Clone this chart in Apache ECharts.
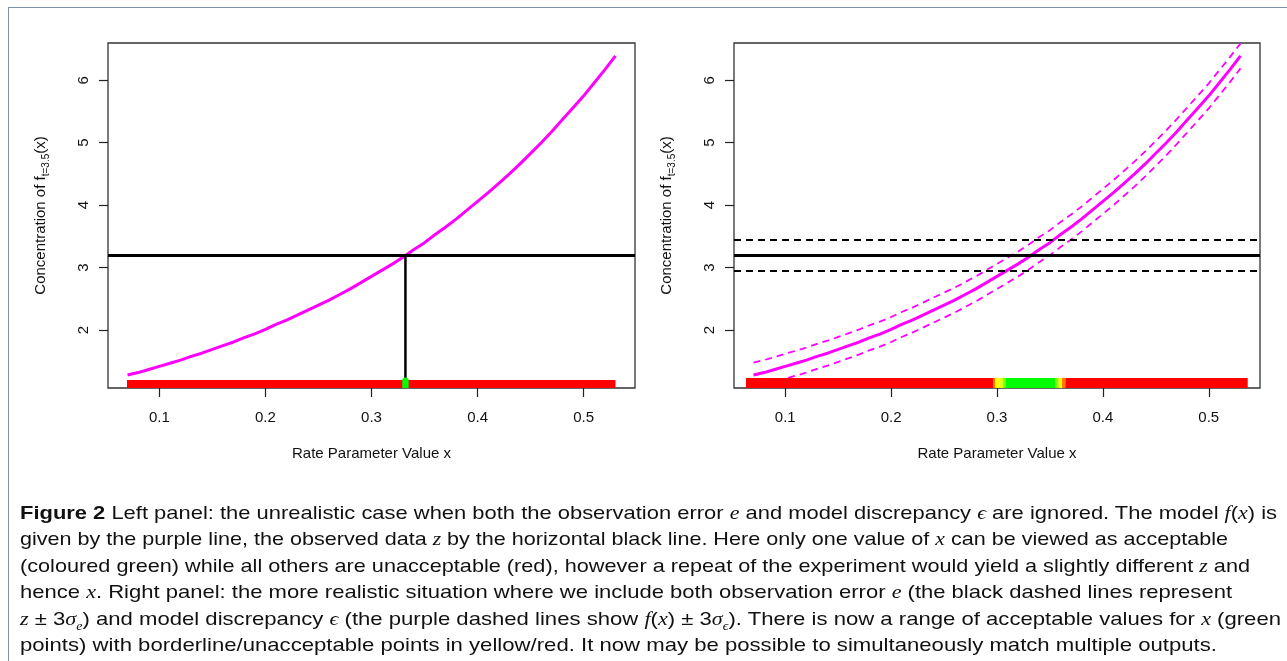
<!DOCTYPE html>
<html>
<head>
<meta charset="utf-8">
<script src="https://cdn.jsdelivr.net/npm/echarts@6/dist/echarts.min.js"></script>
<style>
  html, body { margin: 0; padding: 0; background: #fff; }
  #chart { position: absolute; left: 0; top: 0; width: 1287px; height: 661px; }
  #frame { position: absolute; left: 8px; top: 7px; width: 1300px; height: 700px;
           border-top: 1.5px solid #8090a8; border-left: 1.5px solid #8090a8; pointer-events: none; }
  #caption { position: absolute; left: 20px; top: 500px; font-family: "Liberation Sans", Arial, sans-serif;
             font-size: 19px; line-height: 26.4px; color: #111; }
  #caption .ln { white-space: nowrap; height: 26.4px; }
  #caption .ln span.w { display: inline-block; transform-origin: 0 50%; }
  #caption i { font-family: "Liberation Serif", serif; font-style: italic; }
  #caption sub { font-size: 12px; line-height: 0; }
</style>
</head>
<body>
<div id="chart"></div>
<div id="frame"></div>
<div id="caption">
  <div class="ln" data-w="1257"><span class="w"><b>Figure 2</b> Left panel: the unrealistic case when both the observation error <i>e</i> and model discrepancy <i>ϵ</i> are ignored. The model <i>f</i>(<i>x</i>) is</span></div>
  <div class="ln" data-w="1208"><span class="w">given by the purple line, the observed data <i>z</i> by the horizontal black line. Here only one value of <i>x</i> can be viewed as acceptable</span></div>
  <div class="ln" data-w="1230"><span class="w">(coloured green) while all others are unacceptable (red), however a repeat of the experiment would yield a slightly different <i>z</i> and</span></div>
  <div class="ln" data-w="1212"><span class="w">hence <i>x</i>. Right panel: the more realistic situation where we include both observation error <i>e</i> (the black dashed lines represent</span></div>
  <div class="ln" data-w="1261"><span class="w"><i>z</i> ± 3<i>σ<sub>e</sub></i>) and model discrepancy <i>ϵ</i> (the purple dashed lines show <i>f</i>(<i>x</i>) ± 3<i>σ<sub>ϵ</sub></i>). There is now a range of acceptable values for <i>x</i> (green</span></div>
  <div class="ln" data-w="1197"><span class="w">points) with borderline/unacceptable points in yellow/red. It now may be possible to simultaneously match multiple outputs.</span></div>
</div>
<script>
// ---------------- data ----------------
const xValues = [0.07, 0.08, 0.09, 0.10, 0.11, 0.12, 0.13, 0.14, 0.15, 0.16, 0.17, 0.18,
                 0.19, 0.20, 0.21, 0.22, 0.23, 0.24, 0.25, 0.26, 0.27, 0.28, 0.29, 0.30,
                 0.31, 0.32, 0.33, 0.34, 0.35, 0.36, 0.37, 0.38, 0.39, 0.40, 0.41, 0.42,
                 0.43, 0.44, 0.45, 0.46, 0.47, 0.48, 0.49, 0.50, 0.51, 0.52, 0.53];
const modelF = [1.28, 1.32, 1.37, 1.42, 1.47, 1.52, 1.58, 1.63, 1.69, 1.75, 1.81, 1.88,
                1.94, 2.01, 2.09, 2.16, 2.24, 2.32, 2.40, 2.48, 2.57, 2.66, 2.76, 2.86,
                2.96, 3.06, 3.17, 3.29, 3.40, 3.53, 3.65, 3.78, 3.92, 4.06, 4.20, 4.35,
                4.50, 4.66, 4.83, 5.00, 5.18, 5.37, 5.56, 5.75, 5.96, 6.17, 6.39];
const modelUpper = [1.48, 1.52, 1.57, 1.62, 1.67, 1.72, 1.78, 1.83, 1.89, 1.95, 2.01, 2.08,
                    2.14, 2.21, 2.29, 2.36, 2.44, 2.52, 2.60, 2.68, 2.77, 2.86, 2.96, 3.06,
                    3.16, 3.26, 3.37, 3.49, 3.60, 3.73, 3.85, 3.98, 4.12, 4.26, 4.40, 4.55,
                    4.70, 4.86, 5.03, 5.20, 5.38, 5.57, 5.76, 5.95, 6.16, 6.37, 6.59];
const modelLower = [1.08, 1.12, 1.17, 1.22, 1.27, 1.32, 1.38, 1.43, 1.49, 1.55, 1.61, 1.68,
                    1.74, 1.81, 1.89, 1.96, 2.04, 2.12, 2.20, 2.28, 2.37, 2.46, 2.56, 2.66,
                    2.76, 2.86, 2.97, 3.09, 3.20, 3.33, 3.45, 3.58, 3.72, 3.86, 4.00, 4.15,
                    4.30, 4.46, 4.63, 4.80, 4.98, 5.17, 5.36, 5.55, 5.76, 5.97, 6.19];
const observedZ = 3.2;
const zBounds = [2.95, 3.45];
const matchX = 0.332;
const xTicks = [0.1, 0.2, 0.3, 0.4, 0.5];
const yTicks = [2, 3, 4, 5, 6];
// colour strip segments: [from x, to x, status]
const leftStrip = [[0.0695, 0.530, 'red']];
const leftAccepted = [[0.329, 0.335, 'green']];
const rightStrip = [
  [0.0629, 0.2962, 'red'],
  [0.2962, 0.2985, 'orange'],
  [0.2985, 0.3026, 'yellow'],
  [0.3026, 0.3057, 'yellowgreen'],
  [0.3057, 0.3079, 'lightgreen'],
  [0.3079, 0.3552, 'green'],
  [0.3552, 0.3583, 'lightgreen'],
  [0.3583, 0.3614, 'yellow'],
  [0.3614, 0.3646, 'orange'],
  [0.3646, 0.5368, 'red']
];
const xTitle = 'Rate Parameter Value x';

// ---------------- styling ----------------
const statusColor = { red: '#ff0000', orange: '#ff7a00', yellow: '#ffff00', yellowgreen: '#d8ff20', lightgreen: '#80ff00', green: '#00ff00' };
const X_MIN = 0.0516, X_MAX = 0.5484, Y_MIN = 1.073, Y_MAX = 6.596;
const FONT = '"Liberation Sans", Arial, sans-serif';
const MAGENTA = '#ff00ff';

function xAxisFor(i) {
  return {
    gridIndex: i, type: 'value', min: X_MIN, max: X_MAX,
    axisLine: { show: false },
    axisTick: { show: true, customValues: xTicks, length: 9, lineStyle: { color: '#222', width: 1.2 } },
    axisLabel: { customValues: xTicks, margin: 22, color: '#111', fontSize: 15, fontFamily: FONT },
    splitLine: { show: false },
    name: xTitle, nameLocation: 'middle', nameGap: 58,
    nameTextStyle: { color: '#111', fontSize: 15, fontFamily: FONT }
  };
}
function yAxisFor(i) {
  return {
    gridIndex: i, type: 'value', min: Y_MIN, max: Y_MAX,
    axisLine: { show: false },
    axisTick: { show: true, customValues: yTicks, length: 9, lineStyle: { color: '#222', width: 1.2 } },
    axisLabel: { customValues: yTicks, rotate: 90, margin: 17, color: '#111', fontSize: 15, fontFamily: FONT },
    splitLine: { show: false },
    name: '{a|Concentration of f}{s|t=3.5}{a|(x)}', nameLocation: 'middle', nameRotate: 90, nameGap: 57,
    nameTextStyle: {
      color: '#111', fontFamily: FONT,
      rich: {
        a: { fontSize: 15, fontFamily: FONT, color: '#111', lineHeight: 20, verticalAlign: 'middle' },
        s: { fontSize: 10, fontFamily: FONT, color: '#111', lineHeight: 11, verticalAlign: 'bottom' }
      }
    }
  };
}
function stripSeries(gi, segs, top, z, rounded) {
  return {
    type: 'custom', xAxisIndex: gi, yAxisIndex: gi, z: z, silent: true,
    data: segs.map(s => [s[0], s[1]]),
    renderItem: function (params, api) {
      const p0 = api.coord([api.value(0), top]);
      const p1 = api.coord([api.value(1), Y_MIN]);
      return {
        type: 'rect',
        shape: { x: p0[0], y: p0[1], width: p1[0] - p0[0], height: p1[1] - p0[1], r: rounded ? [3, 3, 0, 0] : 0 },
        style: { fill: statusColor[segs[params.dataIndex][2]] }
      };
    }
  };
}
const pairs = arr => xValues.map((x, i) => [x, arr[i]]);
const hLine = (y, type, width) => ({ yAxis: y, lineStyle: { color: '#000', type: type, width: width } });

const chart = echarts.init(document.getElementById('chart'), null, { renderer: 'canvas' });
chart.setOption({
  animation: false,
  backgroundColor: 'transparent',
  grid: [
    { left: 108, top: 43, width: 527, height: 345, show: true, borderColor: '#333', borderWidth: 1.3, backgroundColor: 'transparent', containLabel: false },
    { left: 734, top: 43, width: 526, height: 345, show: true, borderColor: '#333', borderWidth: 1.3, backgroundColor: 'transparent', containLabel: false }
  ],
  xAxis: [xAxisFor(0), xAxisFor(1)],
  yAxis: [yAxisFor(0), yAxisFor(1)],
  series: [
    // ---- left panel ----
    { type: 'line', xAxisIndex: 0, yAxisIndex: 0, data: pairs(modelF), showSymbol: false,
      lineStyle: { color: MAGENTA, width: 3, join: 'round' }, z: 3,
      markLine: { silent: true, symbol: 'none', label: { show: false }, data: [hLine(observedZ, 'solid', 3)] } },
    { type: 'line', xAxisIndex: 0, yAxisIndex: 0, data: [[matchX, observedZ], [matchX, 1.2]], showSymbol: false,
      lineStyle: { color: '#000', width: 2.5 }, z: 4 },
    stripSeries(0, leftStrip, 1.2, 5, false),
    stripSeries(0, leftAccepted, 1.243, 6, true),
    // ---- right panel ----
    { type: 'line', xAxisIndex: 1, yAxisIndex: 1, data: pairs(modelF), showSymbol: false,
      lineStyle: { color: MAGENTA, width: 3, join: 'round' }, z: 3,
      markLine: { silent: true, symbol: 'none', label: { show: false },
        data: [hLine(observedZ, 'solid', 3), hLine(zBounds[0], [7, 5], 2), hLine(zBounds[1], [7, 5], 2)] } },
    { type: 'line', xAxisIndex: 1, yAxisIndex: 1, data: pairs(modelUpper), showSymbol: false,
      lineStyle: { color: MAGENTA, width: 1.8, type: [7, 5] }, z: 3 },
    { type: 'line', xAxisIndex: 1, yAxisIndex: 1, data: pairs(modelLower), showSymbol: false,
      lineStyle: { color: MAGENTA, width: 1.8, type: [7, 5] }, z: 3 },
    stripSeries(1, rightStrip, 1.235, 5, false)
  ]
});

// fit caption lines to the widths seen in the reference
document.querySelectorAll('#caption .ln').forEach(function (ln) {
  const span = ln.querySelector('span.w');
  const target = parseFloat(ln.getAttribute('data-w'));
  const w = span.getBoundingClientRect().width;
  if (w > 0) span.style.transform = 'scaleX(' + (target / w) + ')';
});
</script>
</body>
</html>
